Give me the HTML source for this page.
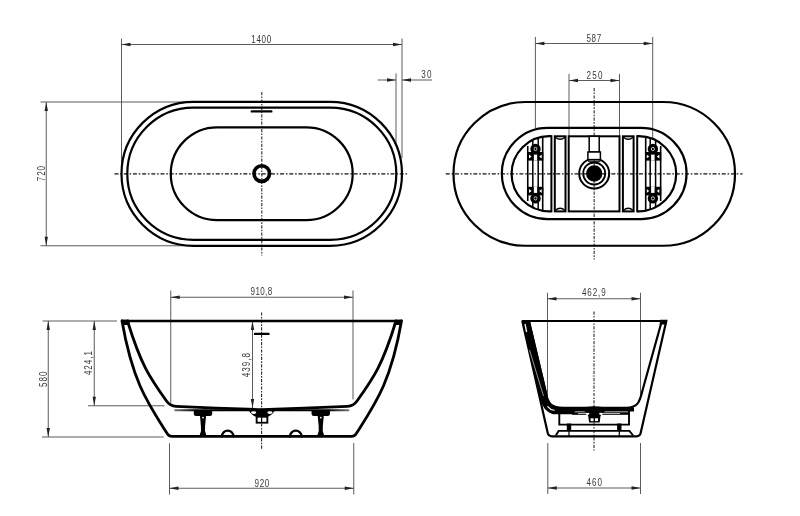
<!DOCTYPE html>
<html><head><meta charset="utf-8"><style>
html,body{margin:0;padding:0;background:#fff;}
svg{display:block;will-change:transform;}
.t{font-family:"Liberation Sans",sans-serif;fill:#3a3a3a;}
</style></head><body>
<svg width="800" height="516" viewBox="0 0 800 516">
<rect width="800" height="516" fill="#fff"/>
<line x1="121.5" y1="38.5" x2="121.5" y2="173" stroke="#4a4a4a" stroke-width="0.9" fill="none"/>
<line x1="402" y1="38.5" x2="402" y2="158" stroke="#4a4a4a" stroke-width="0.9" fill="none"/>
<line x1="396" y1="73.5" x2="396" y2="145" stroke="#4a4a4a" stroke-width="0.9" fill="none"/>
<line x1="40.5" y1="102" x2="193" y2="102" stroke="#4a4a4a" stroke-width="0.9" fill="none"/>
<line x1="40.5" y1="245.75" x2="193" y2="245.75" stroke="#4a4a4a" stroke-width="0.9" fill="none"/>
<line x1="121.5" y1="44.5" x2="402" y2="44.5" stroke="#4a4a4a" stroke-width="0.9" fill="none"/>
<path d="M121.50,44.50 L130.50,42.80 L130.50,46.20 Z" fill="#222"/>
<path d="M402.00,44.50 L393.00,46.20 L393.00,42.80 Z" fill="#222"/>
<text x="0" y="0" transform="translate(251.30,43.10) scale(0.76,1)" font-size="10.6" textLength="26.18" lengthAdjust="spacing" class="t">1400</text>
<line x1="377.7" y1="80" x2="396" y2="80" stroke="#4a4a4a" stroke-width="0.9" fill="none"/>
<path d="M396.00,80.00 L387.00,81.70 L387.00,78.30 Z" fill="#222"/>
<line x1="402" y1="80" x2="432" y2="80" stroke="#4a4a4a" stroke-width="0.9" fill="none"/>
<path d="M402.00,80.00 L411.00,78.30 L411.00,81.70 Z" fill="#222"/>
<text x="0" y="0" transform="translate(421.30,77.90) scale(0.76,1)" font-size="10.6" textLength="13.29" lengthAdjust="spacing" class="t">30</text>
<line x1="46.25" y1="102" x2="46.25" y2="245.75" stroke="#4a4a4a" stroke-width="0.9" fill="none"/>
<path d="M46.25,102.00 L47.95,111.00 L44.55,111.00 Z" fill="#222"/>
<path d="M46.25,245.75 L44.55,236.75 L47.95,236.75 Z" fill="#222"/>
<text x="0" y="0" transform="translate(45.20,181.30) rotate(-90) scale(0.76,1)" font-size="10.6" textLength="20.26" lengthAdjust="spacing" class="t">720</text>
<line x1="114.5" y1="173.8" x2="408.5" y2="173.8" stroke="#111" stroke-width="1.15" fill="none" stroke-dasharray="4 1.8 1.6 1.8"/>
<line x1="261.8" y1="92" x2="261.8" y2="255.6" stroke="#222" stroke-width="1.05" fill="none" stroke-dasharray="3.2 1.3 1.6 1.3"/>
<path d="M193.5,101.8 L330.0,101.8 A72.0,72.0 0 0 1 330.0,245.8 L193.5,245.8 A72.0,72.0 0 0 1 193.5,101.8 Z" stroke="#000" stroke-width="2.2" fill="none" stroke-linejoin="round" stroke-linecap="round"/>
<path d="M193.35000000000002,107.7 L330.25,107.7 A66.05000000000001,66.05000000000001 0 0 1 330.25,239.8 L193.35000000000002,239.8 A66.05000000000001,66.05000000000001 0 0 1 193.35000000000002,107.7 Z" stroke="#000" stroke-width="2.2" fill="none" stroke-linejoin="round" stroke-linecap="round"/>
<path d="M217.15,127.3 L306.3,127.3 A46.4,46.4 0 0 1 306.3,220.1 L217.15,220.1 A46.4,46.4 0 0 1 217.15,127.3 Z" stroke="#000" stroke-width="2.2" fill="none" stroke-linejoin="round" stroke-linecap="round"/>
<circle cx="261.75" cy="173.6" r="7.8" stroke="#000" stroke-width="3.6" fill="none"/>
<line x1="251.8" y1="111.4" x2="271.3" y2="111.4" stroke="#000" stroke-width="2.4" stroke-linecap="round"/>
<line x1="535.4" y1="36.9" x2="535.4" y2="128" stroke="#4a4a4a" stroke-width="0.9" fill="none"/>
<line x1="652.7" y1="36.9" x2="652.7" y2="140" stroke="#4a4a4a" stroke-width="0.9" fill="none"/>
<line x1="569" y1="73.9" x2="569" y2="136" stroke="#4a4a4a" stroke-width="0.9" fill="none"/>
<line x1="619.5" y1="73.9" x2="619.5" y2="136" stroke="#4a4a4a" stroke-width="0.9" fill="none"/>
<line x1="535.4" y1="43.5" x2="652.7" y2="43.5" stroke="#4a4a4a" stroke-width="0.9" fill="none"/>
<path d="M535.40,43.50 L544.40,41.80 L544.40,45.20 Z" fill="#222"/>
<path d="M652.70,43.50 L643.70,45.20 L643.70,41.80 Z" fill="#222"/>
<text x="0" y="0" transform="translate(586.40,41.90) scale(0.76,1)" font-size="10.6" textLength="19.61" lengthAdjust="spacing" class="t">587</text>
<line x1="569" y1="80.5" x2="619.5" y2="80.5" stroke="#4a4a4a" stroke-width="0.9" fill="none"/>
<path d="M569.00,80.50 L578.00,78.80 L578.00,82.20 Z" fill="#222"/>
<path d="M619.50,80.50 L610.50,82.20 L610.50,78.80 Z" fill="#222"/>
<text x="0" y="0" transform="translate(586.50,79.30) scale(0.76,1)" font-size="10.6" textLength="20.92" lengthAdjust="spacing" class="t">250</text>
<line x1="445.75" y1="173.8" x2="742.5" y2="173.8" stroke="#111" stroke-width="1.15" fill="none" stroke-dasharray="4 1.8 1.6 1.8"/>
<line x1="594.15" y1="88" x2="594.15" y2="259.4" stroke="#222" stroke-width="1.05" fill="none" stroke-dasharray="3.2 1.3 1.6 1.3"/>
<path d="M525.375,102 L663.125,102 A71.875,71.875 0 0 1 663.125,245.75 L525.375,245.75 A71.875,71.875 0 0 1 525.375,102 Z" stroke="#000" stroke-width="2.2" fill="none"/>
<path d="M547.45,127.9 L640.95,127.9 A45.64999999999999,45.64999999999999 0 0 1 640.95,219.2 L547.45,219.2 A45.64999999999999,45.64999999999999 0 0 1 547.45,127.9 Z" stroke="#000" stroke-width="2.2" fill="none" stroke-linejoin="round" stroke-linecap="round"/>
<clipPath id="cl"><rect x="0" y="0" width="551.4" height="516"/><rect x="637.2" y="0" width="200" height="516"/></clipPath>
<path d="M549.1500000000001,136.2 L638.6500000000001,136.2 A37.55000000000001,37.55000000000001 0 0 1 638.6500000000001,211.3 L549.1500000000001,211.3 A37.55000000000001,37.55000000000001 0 0 1 549.1500000000001,136.2 Z" stroke="#000" stroke-width="2.2" fill="none" clip-path="url(#cl)"/>
<line x1="551.4" y1="135.2" x2="551.4" y2="212.3" stroke="#000" stroke-width="2"/>
<line x1="637.2" y1="135.2" x2="637.2" y2="212.3" stroke="#000" stroke-width="2"/>
<rect x="554.8" y="136.3" width="10.700000000000045" height="75.1" stroke="#000" stroke-width="2" fill="none"/>
<path d="M555.3,137.2 Q560.15,141.5 565.0,137.2" stroke="#000" stroke-width="1.4" fill="none"/>
<path d="M555.3,210.5 Q560.15,206.2 565.0,210.5" stroke="#000" stroke-width="1.4" fill="none"/>
<rect x="622.9" y="136.3" width="10.700000000000045" height="75.1" stroke="#000" stroke-width="2" fill="none"/>
<path d="M623.4,137.2 Q628.25,141.5 633.1,137.2" stroke="#000" stroke-width="1.4" fill="none"/>
<path d="M623.4,210.5 Q628.25,206.2 633.1,210.5" stroke="#000" stroke-width="1.4" fill="none"/>
<rect x="568.7" y="136.3" width="50.8" height="75.1" stroke="#000" stroke-width="2" fill="none"/>
<circle cx="594.2" cy="173.5" r="15" stroke="#000" stroke-width="2" fill="none"/>
<circle cx="594.2" cy="173.5" r="11" stroke="#000" stroke-width="1.8" fill="none"/>
<circle cx="594.2" cy="173.5" r="8.2" fill="#000"/>
<rect x="589.2" y="136.3" width="10" height="15.7" stroke="#000" stroke-width="1.5" fill="white"/>
<rect x="587.9" y="152" width="12.5" height="7.6" stroke="#000" stroke-width="1.5" fill="white"/>
<line x1="588" y1="161.2" x2="600.4" y2="161.2" stroke="#000" stroke-width="1.2"/>
<clipPath id="ci"><path d="M549.15,136.2 L638.65,136.2 A37.55,37.55 0 0 1 638.65,211.3 L549.15,211.3 A37.55,37.55 0 0 1 549.15,136.2 Z"/></clipPath>
<g transform="" clip-path="url(#ci)">
<rect x="527.2" y="152" width="16.1" height="8.6" fill="#000"/>
<rect x="533.7" y="154.5" width="3.6" height="6.1" fill="#fff"/>
<path d="M529,154.5 L531.6,156.5 L529,158.5 Z M541.8,154.5 L539.2,156.5 L541.8,158.5 Z" fill="#fff"/>
<circle cx="535.5" cy="149" r="5.2" fill="#000"/>
<circle cx="535.5" cy="149" r="1.6" fill="none" stroke="#fff" stroke-width="0.8"/>
<rect x="527.2" y="186.8" width="16.1" height="8.6" fill="#000"/>
<rect x="533.7" y="186.8" width="3.6" height="6.1" fill="#fff"/>
<path d="M529,188.9 L531.6,190.9 L529,192.9 Z M541.8,188.9 L539.2,190.9 L541.8,192.9 Z" fill="#fff"/>
<circle cx="535.5" cy="198.4" r="5.2" fill="#000"/>
<circle cx="535.5" cy="198.4" r="1.6" fill="none" stroke="#fff" stroke-width="0.8"/>
<line x1="527.75" y1="146" x2="527.75" y2="201" stroke="#000" stroke-width="1.6"/>
<line x1="532.8" y1="138" x2="532.8" y2="209" stroke="#000" stroke-width="1.5"/>
<line x1="538.2" y1="138" x2="538.2" y2="209" stroke="#000" stroke-width="1.5"/>
<line x1="542.7" y1="136" x2="542.7" y2="211" stroke="#000" stroke-width="1.6"/>
</g>
<g transform="translate(1188.4,0) scale(-1,1)" clip-path="url(#ci)">
<rect x="527.2" y="152" width="16.1" height="8.6" fill="#000"/>
<rect x="533.7" y="154.5" width="3.6" height="6.1" fill="#fff"/>
<path d="M529,154.5 L531.6,156.5 L529,158.5 Z M541.8,154.5 L539.2,156.5 L541.8,158.5 Z" fill="#fff"/>
<circle cx="535.5" cy="149" r="5.2" fill="#000"/>
<circle cx="535.5" cy="149" r="1.6" fill="none" stroke="#fff" stroke-width="0.8"/>
<rect x="527.2" y="186.8" width="16.1" height="8.6" fill="#000"/>
<rect x="533.7" y="186.8" width="3.6" height="6.1" fill="#fff"/>
<path d="M529,188.9 L531.6,190.9 L529,192.9 Z M541.8,188.9 L539.2,190.9 L541.8,192.9 Z" fill="#fff"/>
<circle cx="535.5" cy="198.4" r="5.2" fill="#000"/>
<circle cx="535.5" cy="198.4" r="1.6" fill="none" stroke="#fff" stroke-width="0.8"/>
<line x1="527.75" y1="146" x2="527.75" y2="201" stroke="#000" stroke-width="1.6"/>
<line x1="532.8" y1="138" x2="532.8" y2="209" stroke="#000" stroke-width="1.5"/>
<line x1="538.2" y1="138" x2="538.2" y2="209" stroke="#000" stroke-width="1.5"/>
<line x1="542.7" y1="136" x2="542.7" y2="211" stroke="#000" stroke-width="1.6"/>
</g>
<line x1="42.5" y1="321" x2="117" y2="321" stroke="#4a4a4a" stroke-width="0.9" fill="none"/>
<line x1="42" y1="437" x2="163.75" y2="437" stroke="#4a4a4a" stroke-width="0.9" fill="none"/>
<line x1="88" y1="405.75" x2="164.5" y2="405.75" stroke="#4a4a4a" stroke-width="0.9" fill="none"/>
<line x1="170.75" y1="290.5" x2="170.75" y2="405" stroke="#4a4a4a" stroke-width="0.9" fill="none"/>
<line x1="353" y1="290.5" x2="353" y2="399.5" stroke="#4a4a4a" stroke-width="0.9" fill="none"/>
<line x1="169.5" y1="443.25" x2="169.5" y2="494.5" stroke="#4a4a4a" stroke-width="0.9" fill="none"/>
<line x1="353.75" y1="443" x2="353.75" y2="494.5" stroke="#4a4a4a" stroke-width="0.9" fill="none"/>
<line x1="170.75" y1="297.25" x2="353" y2="297.25" stroke="#4a4a4a" stroke-width="0.9" fill="none"/>
<path d="M170.75,297.25 L179.75,295.55 L179.75,298.95 Z" fill="#222"/>
<path d="M353.00,297.25 L344.00,298.95 L344.00,295.55 Z" fill="#222"/>
<text x="0" y="0" transform="translate(250.60,295.30) scale(0.76,1)" font-size="10.6" textLength="28.42" lengthAdjust="spacing" class="t">910,8</text>
<line x1="169.5" y1="488.25" x2="353.75" y2="488.25" stroke="#4a4a4a" stroke-width="0.9" fill="none"/>
<path d="M169.50,488.25 L178.50,486.55 L178.50,489.95 Z" fill="#222"/>
<path d="M353.75,488.25 L344.75,489.95 L344.75,486.55 Z" fill="#222"/>
<text x="0" y="0" transform="translate(254.50,487.40) scale(0.76,1)" font-size="10.6" textLength="19.47" lengthAdjust="spacing" class="t">920</text>
<line x1="48.25" y1="321" x2="48.25" y2="437" stroke="#4a4a4a" stroke-width="0.9" fill="none"/>
<path d="M48.25,321.00 L49.95,330.00 L46.55,330.00 Z" fill="#222"/>
<path d="M48.25,437.00 L46.55,428.00 L49.95,428.00 Z" fill="#222"/>
<text x="0" y="0" transform="translate(46.60,386.90) rotate(-90) scale(0.76,1)" font-size="10.6" textLength="20.13" lengthAdjust="spacing" class="t">580</text>
<line x1="94.25" y1="321" x2="94.25" y2="405.75" stroke="#4a4a4a" stroke-width="0.9" fill="none"/>
<path d="M94.25,321.00 L95.95,330.00 L92.55,330.00 Z" fill="#222"/>
<path d="M94.25,405.75 L92.55,396.75 L95.95,396.75 Z" fill="#222"/>
<text x="0" y="0" transform="translate(91.70,375.10) rotate(-90) scale(0.76,1)" font-size="10.6" textLength="31.71" lengthAdjust="spacing" class="t">424,1</text>
<line x1="252.5" y1="321" x2="252.5" y2="408" stroke="#4a4a4a" stroke-width="0.9" fill="none"/>
<path d="M252.50,321.00 L254.20,330.00 L250.80,330.00 Z" fill="#222"/>
<path d="M252.50,408.00 L250.80,399.00 L254.20,399.00 Z" fill="#222"/>
<text x="0" y="0" transform="translate(250.00,377.30) rotate(-90) scale(0.76,1)" font-size="10.6" textLength="31.84" lengthAdjust="spacing" class="t">439,8</text>
<line x1="261.6" y1="312.4" x2="261.6" y2="449.5" stroke="#222" stroke-width="1.05" fill="none" stroke-dasharray="3.2 1.3 1.6 1.3"/>
<line x1="121.5" y1="321" x2="402" y2="321" stroke="#000" stroke-width="2.4"/>
<path d="M122,321 C132.68,382.29 147.91,403.26 167.5,434 Q169,436.3 172,436.3 L351.5,436.3 Q354.5,436.3 356,434 C375.59,403.26 390.82,382.29 401.5,321" stroke="#000" stroke-width="2.8" fill="none" stroke-linejoin="round" stroke-linecap="round"/>
<path d="M127.5,321 C140.86,364.45 149.37,377.13 166.5,401 Q170,406 176,406.3 Q220,408.3 261.75,409.6 Q303.5,408.3 347.5,406.3 Q353.5,406 357,401 C374.13,377.13 382.64,364.45 396,321" stroke="#000" stroke-width="2.8" fill="none" stroke-linejoin="round" stroke-linecap="round"/>
<path d="M121,319.8 L128.8,319.8 L130,325 L122.6,325 Z M402.5,319.8 L394.7,319.8 L393.5,325 L400.9,325 Z" fill="#000"/>
<linearGradient id="pg" gradientUnits="userSpaceOnUse" x1="174" y1="0" x2="349.5" y2="0"><stop offset="0" stop-color="#777"/><stop offset="0.12" stop-color="#000"/><stop offset="0.88" stop-color="#000"/><stop offset="1" stop-color="#777"/></linearGradient>
<path d="M174.4,410.3 L349.2,410.3" stroke="url(#pg)" stroke-width="2" fill="none"/>
<path d="M193.8,410 L212.2,410 L212.2,414 Q212.2,416 210,416 L196,416 Q193.8,416 193.8,414 Z" fill="#000"/>
<path d="M199.9,415 L206.1,415 L205.1,426 L205,431 L206.6,436 L199.4,436 L201,431 L200.9,426 Z" fill="#000"/>
<circle cx="203" cy="417.6" r="0.9" fill="#fff"/>
<path d="M311.55,410 L329.95,410 L329.95,414 Q329.95,416 327.75,416 L313.75,416 Q311.55,416 311.55,414 Z" fill="#000"/>
<path d="M317.65,415 L323.85,415 L322.85,426 L322.75,431 L324.35,436 L317.15,436 L318.75,431 L318.65,426 Z" fill="#000"/>
<circle cx="320.75" cy="417.6" r="0.9" fill="#fff"/>
<path d="M221.89999999999998,436.5 A5.8,5.8 0 0 1 233.5,436.5" stroke="#000" stroke-width="2.2" fill="none" stroke-linejoin="round" stroke-linecap="round"/>
<path d="M290.0,436.5 A5.8,5.8 0 0 1 301.6,436.5" stroke="#000" stroke-width="2.2" fill="none" stroke-linejoin="round" stroke-linecap="round"/>
<path d="M248,409 Q252,417 258,417 L265.5,417 Q271.5,417 275.6,409 Z" fill="#000"/>
<rect x="256.7" y="416.8" width="10.6" height="5.8" stroke="#000" stroke-width="2" fill="#fff"/>
<ellipse cx="253.6" cy="412.6" rx="2.6" ry="1.3" fill="#fff"/><ellipse cx="269.9" cy="412.6" rx="2.6" ry="1.3" fill="#fff"/>
<rect x="257.8" y="417.8" width="8.4" height="3.8" fill="#fff"/><line x1="261.6" y1="417" x2="261.6" y2="422" stroke="#000" stroke-width="1.2"/>
<line x1="255" y1="333.9" x2="268.5" y2="333.9" stroke="#000" stroke-width="2.4" stroke-linecap="round"/>
<line x1="547.5" y1="292.75" x2="547.5" y2="402" stroke="#4a4a4a" stroke-width="0.9" fill="none"/>
<line x1="640.5" y1="292.75" x2="640.5" y2="400" stroke="#4a4a4a" stroke-width="0.9" fill="none"/>
<line x1="547.8" y1="443" x2="547.8" y2="494" stroke="#4a4a4a" stroke-width="0.9" fill="none"/>
<line x1="640.5" y1="443" x2="640.5" y2="494" stroke="#4a4a4a" stroke-width="0.9" fill="none"/>
<line x1="547.5" y1="298.75" x2="640.5" y2="298.75" stroke="#4a4a4a" stroke-width="0.9" fill="none"/>
<path d="M547.50,298.75 L556.50,297.05 L556.50,300.45 Z" fill="#222"/>
<path d="M640.50,298.75 L631.50,300.45 L631.50,297.05 Z" fill="#222"/>
<text x="0" y="0" transform="translate(581.90,296.00) scale(0.76,1)" font-size="10.6" textLength="31.32" lengthAdjust="spacing" class="t">462,9</text>
<line x1="547.8" y1="488" x2="640.5" y2="488" stroke="#4a4a4a" stroke-width="0.9" fill="none"/>
<path d="M547.80,488.00 L556.80,486.30 L556.80,489.70 Z" fill="#222"/>
<path d="M640.50,488.00 L631.50,489.70 L631.50,486.30 Z" fill="#222"/>
<text x="0" y="0" transform="translate(586.50,486.00) scale(0.76,1)" font-size="10.6" textLength="20.53" lengthAdjust="spacing" class="t">460</text>
<line x1="594" y1="311.5" x2="594" y2="450.5" stroke="#222" stroke-width="1.05" fill="none" stroke-dasharray="3.2 1.3 1.6 1.3"/>
<line x1="522" y1="321" x2="666.5" y2="321" stroke="#000" stroke-width="2.2"/>
<path d="M522.3,321 L547.8,433.3 Q548.6,436.3 552,436.3 L636.5,436.3 Q639.8,436.3 640.6,433.3 L666.3,321" stroke="#000" stroke-width="2.2" fill="none" stroke-linejoin="round"/>
<path d="M528.8,321 L545.3,390 Q547,401 551,404.5 Q555,407.6 563,407.8 L626,407.8 Q635,407.5 638,403 Q640.5,399 642.6,390 L661.8,321" stroke="#000" stroke-width="2.2" fill="none" stroke-linejoin="round"/>
<path d="M521.6,320 L529.8,320 L546.3,390 L547.8,398 L541,399 L537.6,390 Z" fill="#000"/>
<path d="M660.3,319.8 L667.6,319.8 L666.5,324.5 L659.6,324.5 Z" fill="#000"/>
<path d="M525,324 L526.6,332" stroke="#fff" stroke-width="1.3"/>
<path d="M529.5,350 L543.5,396" stroke="#fff" stroke-width="0.6"/>
<path d="M540.8,398 Q543.5,410 553,413.4 L629,413.4" stroke="#000" stroke-width="1.8" fill="none"/>
<path d="M545.5,394 Q548,405 556,407.3 L634,407.3 L634,411.4 L575,411.6 L573,413.8 L553,413.8 Q544,411 541.5,400 Z" fill="#000"/>
<path d="M547.8,406.6 Q550,409.6 554.2,410.3" stroke="#fff" stroke-width="1.1" fill="none" stroke-linecap="round"/>
<path d="M572,413.6 L629,413.6" stroke="#000" stroke-width="2.2" fill="none"/>
<path d="M578,413.5 L588,413.5 M600,413.5 L620,413.5" stroke="#fff" stroke-width="0.7" fill="none"/>
<path d="M559.3,413 L559.3,424.6 L629,424.6 L629,411" stroke="#000" stroke-width="1.9" fill="none"/>
<path d="M555.8,435.5 L558.6,430.9 L629.4,430.9 L633.2,435.5" stroke="#000" stroke-width="1.9" fill="none"/>
<rect x="566.8" y="423.5" width="4.4" height="7.5" fill="#000"/>
<line x1="569" y1="424" x2="569" y2="436" stroke="#000" stroke-width="1.2"/>
<rect x="617.0999999999999" y="423.5" width="4.4" height="7.5" fill="#000"/>
<line x1="619.3" y1="424" x2="619.3" y2="436" stroke="#000" stroke-width="1.2"/>
<path d="M584.3,411 L605.4,411 Q602,413 600.5,416 L599.7,422.4 L589.1,422.4 L588.2,416 Q587,413 584.3,411 Z" fill="#000"/>
<path d="M594.2,406.2 Q600,406.5 606,407.6 L583,407.6 Q588,406.5 594.2,406.2 Z" fill="#000"/>
<ellipse cx="587.5" cy="413.8" rx="2" ry="1.1" fill="#fff"/><ellipse cx="601" cy="413.8" rx="2" ry="1.1" fill="#fff"/>
<rect x="590.6" y="418.3" width="3" height="2.8" fill="#fff"/><rect x="595" y="418.3" width="3" height="2.8" fill="#fff"/>
</svg></body></html>
